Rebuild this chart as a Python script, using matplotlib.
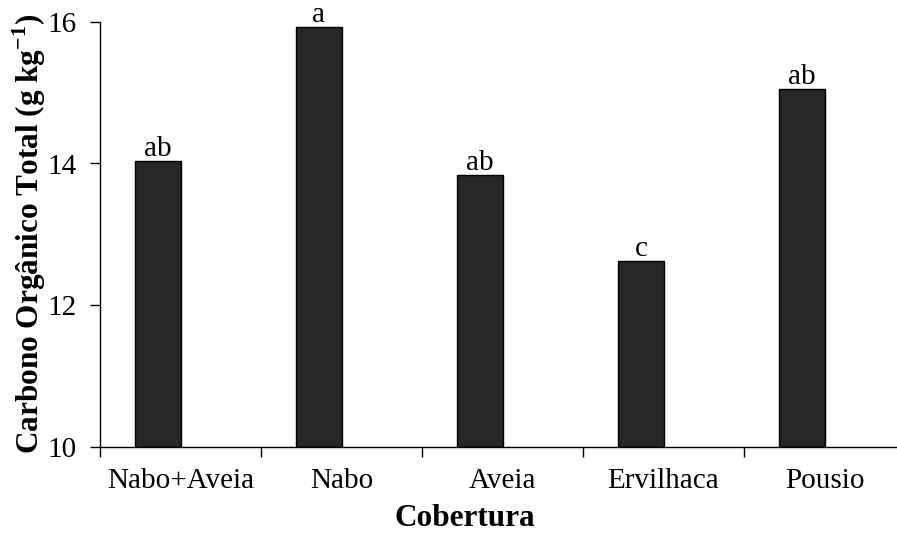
import numpy as np
import matplotlib
matplotlib.use("Agg")
import matplotlib.pyplot as plt

# data
categories = ["Nabo+Aveia", "Nabo", "Aveia", "Ervilhaca", "Pousio"]
carbono = [14.03, 15.93, 13.84, 12.63, 15.05]
letras = ["ab", "a", "ab", "c", "ab"]

plt.rcParams["font.family"] = ["Liberation Serif", "DejaVu Serif"]
plt.rcParams["mathtext.fontset"] = "custom"
plt.rcParams["mathtext.rm"] = "Liberation Serif"
plt.rcParams["mathtext.bf"] = "Liberation Serif:bold"

fs = 21
fs_bold = 22.5

fig = plt.figure(figsize=(8.97, 5.37), dpi=100)
ax = fig.add_axes([100 / 897, 1 - 447.3 / 537, 797 / 897, (447.3 - 21.6) / 537])

x = np.arange(len(categories))
# bars sit left of the category centre (excel style with an empty second series)
ax.bar(x + 0.36, np.array(carbono) - 10, bottom=10, width=0.29,
       color="#262626", edgecolor="black", linewidth=1.0)

# significance letters
for xi, v, t in zip(x, carbono, letras):
    ax.text(xi + 0.36, v + 0.07, t, ha="center", va="baseline", fontsize=fs)

ax.set_ylim(10, 16)
ax.set_yticks([10, 12, 14, 16])
ax.set_xlim(0, 797 / 161)

ax.set_xticks(x)
ax.set_xticklabels([])
ax.set_xticks(x + 0.5, minor=True)
ax.set_xticklabels(categories, minor=True)
ax.tick_params(axis="x", which="minor", length=0, pad=15, labelsize=fs)
ax.tick_params(axis="x", which="major", length=7, width=1.0, direction="out")
ax.tick_params(axis="y", length=7, width=1.0, direction="out", pad=10, labelsize=fs)

for s in ["top", "right"]:
    ax.spines[s].set_visible(False)
for s in ["left", "bottom"]:
    ax.spines[s].set_linewidth(1.0)

fig.text(29 / 897, 1 - 234 / 537, r"Carbono Orgânico Total (g kg$^{\mathbf{-1}}$)",
         rotation=90, ha="center", va="center", fontsize=fs_bold, fontweight="bold")
fig.text(465 / 897, 1 - 518 / 537, "Cobertura", ha="center", va="center",
         fontsize=fs_bold, fontweight="bold")

fig.savefig("out.png", dpi=100)
